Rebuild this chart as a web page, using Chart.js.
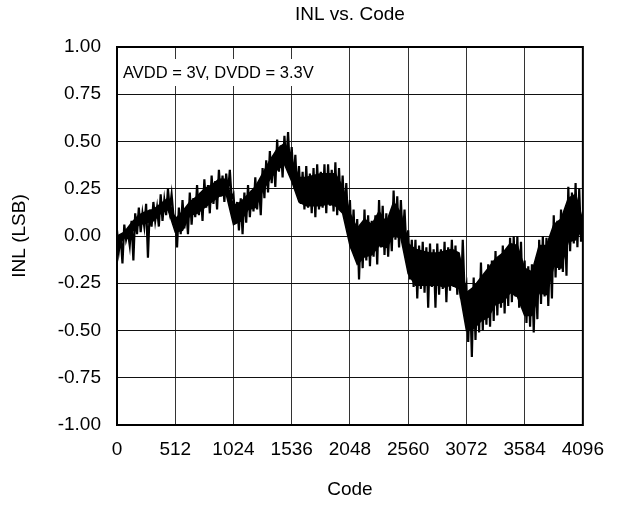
<!DOCTYPE html>
<html>
<head>
<meta charset="utf-8">
<script src="https://cdn.jsdelivr.net/npm/chart.js@4.4.1/dist/chart.umd.min.js"></script>
<style>
  html, body { margin: 0; padding: 0; background: #ffffff; }
  #wrap { width: 617px; height: 505px; }
</style>
</head>
<body>
<div id="wrap"><canvas id="c" width="617" height="505"></canvas></div>
<script>
// ---- data (INL in LSB) ----
// noisy trace, one reading every 16 codes (codes 0..4096)
const codeStep = 16;
const inlValues = [
  0.03, -0.08, 0.00, -0.145,   0.06, -0.02, 0.02, -0.05,
  0.08, -0.13, 0.12, 0.01,     0.15, 0.02, 0.12, 0.05,
  0.17, -0.115, 0.14, 0.05,    0.18, 0.08, 0.15, 0.05,
  0.22, 0.08, 0.19, 0.11,      0.25, 0.14, 0.22, 0.11,
  0.10, -0.06, 0.15, 0.01,     0.19, 0.04, 0.15, 0.01,
  0.23, 0.06, 0.20, 0.10,      0.27, 0.11, 0.23, 0.08,
  0.30, 0.15, 0.27, 0.12,      0.32, 0.17, 0.29, 0.14,
  0.35, 0.21, 0.32, 0.18,      0.33, 0.23, 0.35, 0.20,
  0.22, 0.08, 0.18, 0.03,      0.20, 0.01, 0.23, 0.07,
  0.27, 0.10, 0.24, 0.13,      0.31, 0.14, 0.28, 0.11,
  0.36, 0.20, 0.40, 0.23,      0.45, 0.28, 0.42, 0.26,
  0.51, 0.34, 0.48, 0.31,      0.53, 0.38, 0.55, 0.35,
  0.47, 0.29, 0.43, 0.23,      0.37, 0.17, 0.34, 0.14,
  0.37, 0.15, 0.33, 0.12,      0.36, 0.10, 0.38, 0.14,
  0.34, 0.15, 0.38, 0.12,      0.38, 0.16, 0.35, 0.13,
  0.39, 0.11, 0.36, 0.15,      0.32, 0.11, 0.28, 0.05,
  0.19, -0.07, 0.14, -0.11,    0.09, -0.23, 0.06, -0.17,
  0.14, -0.13, 0.11, -0.16,    0.08, -0.11, 0.11, -0.15,
  0.19, -0.06, 0.16, -0.10,    0.12, -0.11, 0.09, -0.08,
  0.24, -0.02, 0.21, -0.06,    0.19, -0.03, 0.14, -0.06,
  0.03, -0.23, -0.02, -0.27,   -0.02, -0.33, -0.05, -0.28,
  -0.03, -0.30, -0.06, -0.38,  -0.04, -0.27, -0.07, -0.38,
  -0.04, -0.31, -0.07, -0.28,  -0.03, -0.35, -0.06, -0.29,
  -0.02, -0.27, -0.05, -0.31,  -0.11, -0.33, -0.02, -0.30,
  -0.26, -0.56, -0.29, -0.64,  -0.22, -0.55, -0.26, -0.51,
  -0.14, -0.50, -0.21, -0.47,  -0.15, -0.48, -0.13, -0.45,
  -0.08, -0.42, -0.11, -0.38,  -0.05, -0.41, -0.08, -0.37,
  -0.01, -0.35, 0.00, -0.32,   0.00, -0.38, -0.03, -0.34,
  -0.13, -0.46, -0.16, -0.48,  -0.15, -0.51, -0.18, -0.44,
  -0.02, -0.36, 0.00, -0.32,   -0.01, -0.37, -0.04, -0.33,
  0.11, -0.22, 0.08, -0.18,    0.14, -0.19, 0.11, -0.21,
  0.26, -0.08, 0.23, -0.04,    0.28, -0.06, 0.25, -0.03,
  0.10
];
// dense core of the band (where the trace is solid black), one reading every 64 codes
const coreStep = 64;
const coreHigh = [
  0.00, 0.02, 0.07, 0.11, 0.13, 0.14, 0.17, 0.20,
  0.09, 0.13, 0.18, 0.21, 0.25, 0.27, 0.30, 0.30,
  0.16, 0.18, 0.22, 0.26, 0.33, 0.40, 0.46, 0.49,
  0.40, 0.31, 0.31, 0.32, 0.33, 0.33, 0.33, 0.26,
  0.12, 0.04, 0.09, 0.06, 0.13, 0.07, 0.18, 0.12,
  -0.04, -0.07, -0.08, -0.09, -0.09, -0.08, -0.07, -0.09,
  -0.30, -0.27, -0.22, -0.17, -0.12, -0.09, -0.04, -0.05,
  -0.17, -0.19, -0.05, -0.05, 0.06, 0.09, 0.20, 0.22,
  0.08
];
const coreLow = [
  -0.06, -0.01, 0.02, 0.06, 0.07, 0.08, 0.12, 0.14,
  0.02, 0.03, 0.11, 0.12, 0.15, 0.18, 0.21, 0.22,
  0.06, 0.08, 0.14, 0.15, 0.24, 0.30, 0.35, 0.38,
  0.29, 0.18, 0.16, 0.16, 0.16, 0.17, 0.16, 0.12,
  -0.05, -0.15, -0.11, -0.10, -0.05, -0.06, 0.00, -0.01,
  -0.20, -0.26, -0.26, -0.26, -0.26, -0.27, -0.26, -0.28,
  -0.50, -0.49, -0.45, -0.43, -0.36, -0.35, -0.30, -0.32,
  -0.42, -0.42, -0.30, -0.31, -0.16, -0.17, -0.03, -0.02,
  0.04
];
const xTicks = [0, 512, 1024, 1536, 2048, 2560, 3072, 3584, 4096];
const yTicks = [-1.00, -0.75, -0.50, -0.25, 0.00, 0.25, 0.50, 0.75, 1.00];
const titleText = 'INL vs. Code';
const xTitle = 'Code';
const yTitle = 'INL (LSB)';
const noteText = 'AVDD = 3V, DVDD = 3.3V';

const tracePts = inlValues.map((v, i) => ({ x: i * codeStep, y: v }));
const coreHighPts = coreHigh.map((v, i) => ({ x: i * coreStep, y: v }));
const coreLowPts = coreLow.map((v, i) => ({ x: i * coreStep, y: v }));
const FONT = "'Liberation Sans', Arial, Helvetica, sans-serif";

const decor = {
  id: 'decor',
  beforeDatasetsDraw(chart) {
    const { ctx, chartArea } = chart;
    ctx.save();
    ctx.font = '16.5px ' + FONT;
    const w = ctx.measureText(noteText).width;
    ctx.fillStyle = '#ffffff';
    ctx.fillRect(chartArea.left + 2, chartArea.top + 12, w + 8, 27);
    ctx.fillStyle = '#000000';
    ctx.textBaseline = 'middle';
    ctx.textAlign = 'left';
    ctx.fillText(noteText, chartArea.left + 6, chartArea.top + 26);
    ctx.restore();
  },
  afterDraw(chart) {
    const { ctx, chartArea } = chart;
    ctx.save();
    ctx.strokeStyle = '#000000';
    ctx.lineWidth = 2;
    ctx.strokeRect(chartArea.left, chartArea.top, chartArea.right - chartArea.left, chartArea.bottom - chartArea.top);
    ctx.font = '19px ' + FONT;
    ctx.fillStyle = '#000000';
    ctx.textAlign = 'center';
    ctx.textBaseline = 'middle';
    ctx.fillText(titleText, (chartArea.left + chartArea.right) / 2, 15);
    ctx.restore();
  }
};

new Chart(document.getElementById('c'), {
  type: 'line',
  data: {
    datasets: [
      { data: tracePts, borderColor: '#000000', borderWidth: 2.2, pointRadius: 0, tension: 0, fill: false, order: 0 },
      { data: coreHighPts, borderColor: '#000000', backgroundColor: '#000000', borderWidth: 1.5, pointRadius: 0, tension: 0, fill: '+1', order: 1 },
      { data: coreLowPts, borderColor: '#000000', borderWidth: 1.5, pointRadius: 0, tension: 0, fill: false, order: 2 }
    ]
  },
  options: {
    responsive: false,
    animation: false,
    devicePixelRatio: 1,
    layout: { padding: { top: 47, right: 28, left: 0, bottom: 0 } },
    plugins: { legend: { display: false }, title: { display: false }, tooltip: { enabled: false } },
    scales: {
      x: {
        type: 'linear', min: 0, max: 4096,
        afterFit(s) { s.height = 80; },
        afterBuildTicks(s) { s.ticks = xTicks.map(v => ({ value: v })); },
        ticks: { color: '#000', font: { family: FONT, size: 19 }, padding: 13, maxRotation: 0, autoSkip: false,
                 callback: v => String(v) },
        grid: { color: '#333333', lineWidth: 1, drawTicks: false },
        border: { display: false },
        title: { display: true, text: xTitle, color: '#000', font: { family: FONT, size: 19 }, padding: { top: 0, bottom: 4 } }
      },
      y: {
        type: 'linear', min: -1, max: 1,
        afterFit(s) { s.width = 117; },
        afterBuildTicks(s) { s.ticks = yTicks.map(v => ({ value: v })); },
        ticks: { color: '#000', font: { family: FONT, size: 19 }, padding: 16, autoSkip: false,
                 callback: v => Number(v).toFixed(2) },
        grid: { color: '#111111', lineWidth: 1, drawTicks: false },
        border: { display: false },
        title: { display: true, text: yTitle, color: '#000', font: { family: FONT, size: 19 }, padding: { top: 8, bottom: 0 } }
      }
    }
  },
  plugins: [decor]
});
</script>
</body>
</html>
